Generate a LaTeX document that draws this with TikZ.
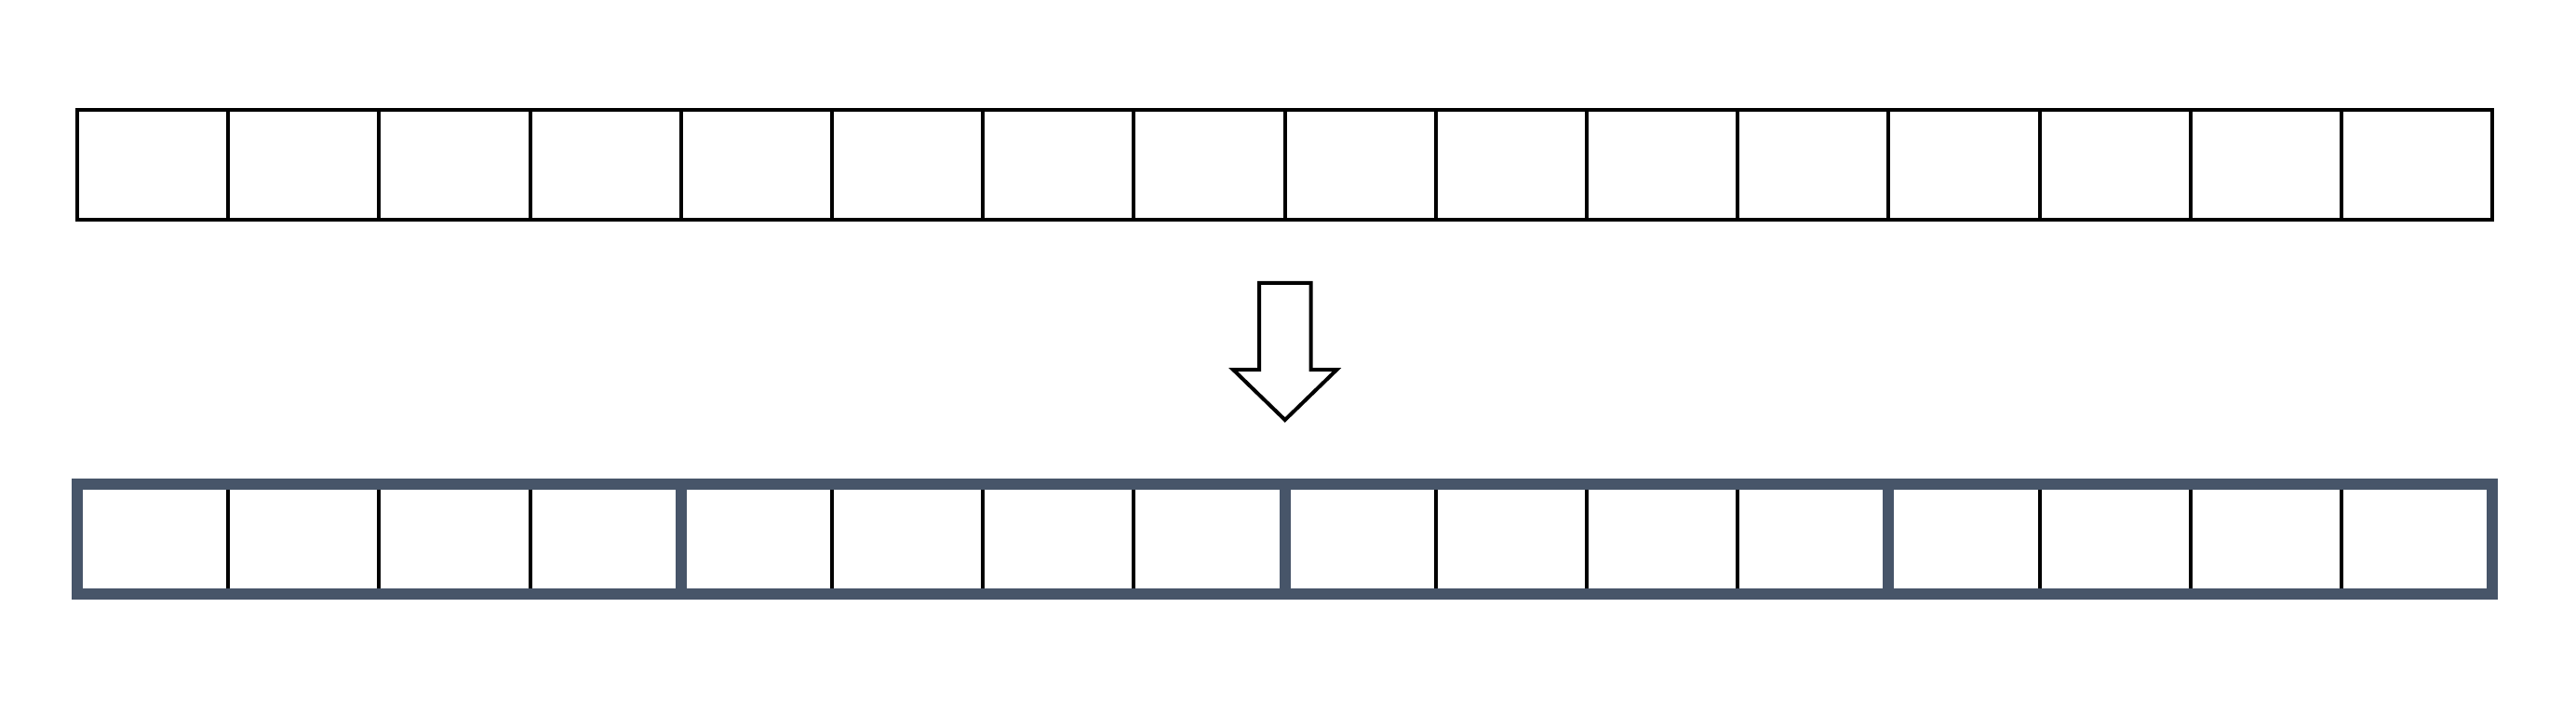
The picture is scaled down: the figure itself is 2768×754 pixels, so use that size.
\documentclass[tikz,border=0pt]{standalone}
\usepackage{tikz}
\usetikzlibrary{positioning}
\definecolor{slate}{HTML}{475569}
\tikzset{
  cell/.style={draw, rectangle, line width=2pt, minimum width=81.1pt, minimum height=59.15pt, inner sep=0pt, outer sep=0pt},
  group/.style={draw=slate, line width=6pt}
}

\begin{document}
\begin{tikzpicture}[x=0.5pt, y=-0.5pt, node distance=0pt]
  \useasboundingbox (0,0) rectangle (2768,754);
  % top row
  \node (t1) [cell] at (164.1,176.85) {};
  \foreach \i [count=\j from 2] in {1,...,15}
    \node (t\j) [cell, right=0pt of t\i] {};
  % bottom row
  \node (b1) [cell] at (164.1,578.85) {};
  \foreach \i [count=\j from 2] in {1,...,15}
    \node (b\j) [cell, right=0pt of b\i] {};
  \foreach \a/\b in {1/4,5/8,9/12,13/16}
    \draw[group] (b\a.north west) rectangle (b\b.south east);
  % arrow
  \coordinate (arr) at (1380.75,304);
  \draw[line width=2pt, line join=miter] (arr) ++(-27.75,0) -- ++(0,93) -- ++(-28,0)
    -- ++(55.75,54) -- ++(55.75,-54) -- ++(-28,0) -- ++(0,-93) -- cycle;
\end{tikzpicture}
\end{document}
